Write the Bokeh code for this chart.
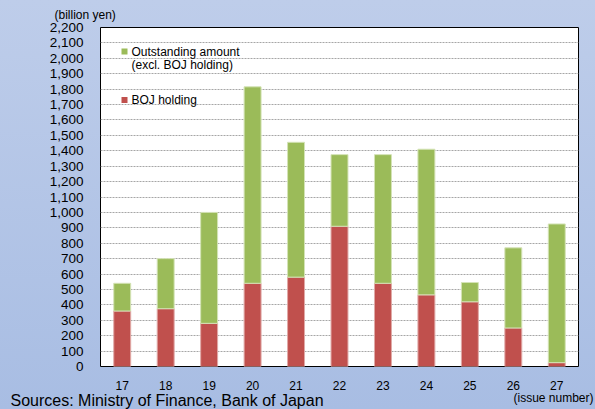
from bokeh.plotting import figure
from bokeh.models import (FixedTicker, NumeralTickFormatter, Label, BoxAnnotation,
                          GlobalInlineStyleSheet, Range1d, Title)
from bokeh.embed import file_html
from bokeh.resources import INLINE

# ---- data (billion yen) ----
issues = [17, 18, 19, 20, 21, 22, 23, 24, 25, 26, 27]
issue_labels = ["17", "18", "19", "20", "21", "22", "23", "24", "25", "26", "27"]
boj_holding = [360, 375, 280, 540, 580, 910, 540, 465, 420, 250, 25]
outstanding_excl_boj = [180, 325, 720, 1275, 875, 465, 835, 945, 125, 520, 900]
y_ticks = list(range(0, 2201, 100))

series_names = ["Outstanding amount", "(excl. BOJ holding)", "BOJ holding"]
GREEN = "#9bbb59"
RED = "#c0504d"
FONT = "Liberation Sans"

data = dict(issue=issues, boj=boj_holding, excl=outstanding_excl_boj)

p = figure(width=595, height=409, output_backend="svg", toolbar_location=None,
           x_range=Range1d(16.5, 27.5), y_range=Range1d(0, 2200),
           min_border_left=100, min_border_right=17, min_border_top=27, min_border_bottom=43)

p.stylesheets = [GlobalInlineStyleSheet(
    css="html, body { background: linear-gradient(#becdea, #a8bde3); min-height: 100%; }")]

p.border_fill_color = None
p.background_fill_color = "white"
p.outline_line_color = "black"
p.outline_line_width = 1

p.vbar_stack(["boj", "excl"], x="issue", width=0.39, source=data,
             color=[RED, GREEN], line_color=["#e0a9a7", "#d4e3b6"], line_width=1)

# axes
p.yaxis.ticker = FixedTicker(ticks=y_ticks)
p.yaxis.formatter = NumeralTickFormatter(format="0,0")
p.xaxis.ticker = FixedTicker(ticks=issues)
p.xaxis.major_label_overrides = {i: l for i, l in zip(issues, issue_labels)}
for ax in (p.xaxis, p.yaxis):
    ax.axis_line_color = None
    ax.major_tick_line_color = None
    ax.minor_tick_line_color = None
    ax.major_tick_out = 0
    ax.major_tick_in = 0
    ax.major_label_text_font = FONT
    ax.major_label_text_color = "black"
p.yaxis.major_label_text_font_size = "13.5px"
p.xaxis.major_label_text_font_size = "12px"
p.yaxis.major_label_standoff = 17
p.xaxis.major_label_standoff = 14

p.xgrid.grid_line_color = None
p.ygrid.ticker = FixedTicker(ticks=y_ticks)
p.ygrid.grid_line_color = "#a6a6a6"
p.ygrid.grid_line_dash = "2 1"
p.ygrid.grid_line_width = 1

# legend (custom)
p.add_layout(BoxAnnotation(left=21, right=27, bottom=312, top=318,
                           left_units="screen", right_units="screen",
                           top_units="screen", bottom_units="screen",
                           fill_color=GREEN, fill_alpha=1, line_color=None, level="overlay"))
p.add_layout(BoxAnnotation(left=21, right=27, bottom=263.5, top=269.5,
                           left_units="screen", right_units="screen",
                           top_units="screen", bottom_units="screen",
                           fill_color=RED, fill_alpha=1, line_color=None, level="overlay"))

def lab(text, x, y, size):
    p.add_layout(Label(x=x, y=y, x_units="screen", y_units="screen", text=text,
                       text_font=FONT, text_font_size=size, text_color="black",
                       text_align="left", text_baseline="middle"))

lab(series_names[0], 31, 315, "12px")
lab(series_names[1], 31, 301.5, "12px")
lab(series_names[2], 31, 267, "12px")

# texts outside the plot area
p.add_layout(Title(text="(billion yen)", align="left", offset=-46, standoff=11,
                   text_font=FONT, text_font_size="12px", text_font_style="normal",
                   text_color="black"), "above")
p.add_layout(Title(text="(issue number)", align="right", offset=-15, standoff=-4,
                   vertical_align="top",
                   text_font=FONT, text_font_size="12px", text_font_style="normal",
                   text_color="black"), "below")
p.add_layout(Title(text="Sources: Ministry of Finance, Bank of Japan", align="left",
                   offset=-90, standoff=-26, vertical_align="top",
                   text_font=FONT, text_font_size="16px", text_font_style="normal",
                   text_color="black"), "below")

open("out.html", "w").write(file_html(p, INLINE))
